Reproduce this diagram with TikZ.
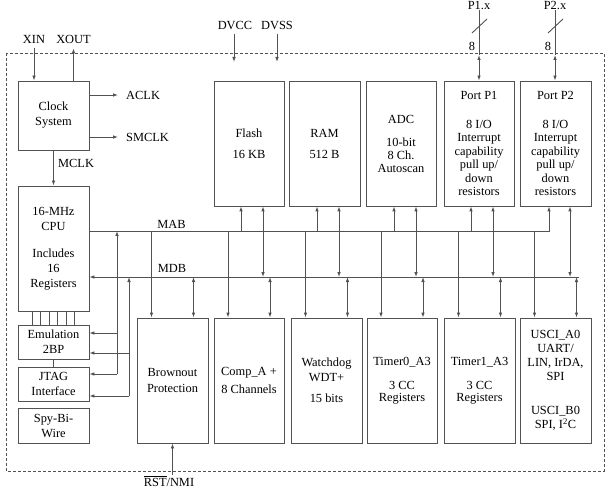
\documentclass[tikz,border=0pt]{standalone}
\usepackage{fontspec}
\setmainfont{Liberation Serif}
\usetikzlibrary{arrows.meta}
\definecolor{lc}{gray}{0.32}
\begin{document}
\begin{tikzpicture}[x=1pt,y=-1pt,
  font=\fontsize{12.4}{14}\selectfont,
  box/.style={draw=lc,line width=0.9pt,inner sep=0pt,align=center,minimum width=71pt},
  tall/.style={box,minimum height=125pt},
  small/.style={box,minimum height=34pt},
  wire/.style={draw=lc,line width=0.9pt},
  arr/.style={wire,-{Latex[length=5pt,width=3.6pt]}},
  darr/.style={wire,{Latex[length=5pt,width=3.6pt]}-{Latex[length=5pt,width=3.6pt]}},
  lbl/.style={inner sep=0pt}
]
\useasboundingbox (0,0) rectangle (605,489);
\draw[lc,line width=0.8pt,dash pattern=on 3pt off 2pt] (6,53) rectangle (604,471);

% boxes
\node[box,minimum height=69pt] (clk) at (53.5,115.5) {Clock\\[1pt]System};
\node[tall] (cpu) at (53.5,248.5) {16-MHz\\[1pt]CPU\\[13pt]Includes\\[1pt]16\\[1pt]Registers};
\node[small] (emu) at (53.5,342) {Emulation\\[1pt]2BP};
\node[small] (jtag) at (53.5,384) {JTAG\\[1pt]Interface};
\node[box,minimum height=35pt] (sbw) at (53.5,425.5) {Spy-Bi-\\[1pt]Wire};
\node[tall] (bor) at (172.5,380.5) {Brownout\\[2pt]Protection};
\node[tall,minimum width=70pt] (flash) at (249,143.5) {Flash\\[7pt]16 KB};
\node[tall] (ram) at (324.5,143.5) {RAM\\[7pt]512 B};
\node[tall,minimum width=70pt] (adc) at (401,143.5) {ADC\\[9pt]10-bit\\[-1pt]8 Ch.\\[-1pt]Autoscan};
\node[tall,minimum width=70pt] (p1) at (479,143.5) {Port P1\\[15pt]8 I/O\\[-0.6pt]Interrupt\\[-0.6pt]capability\\[-0.6pt]pull up/\\[-0.6pt]down\\[-0.6pt]resistors};
\node[tall] (p2) at (555.5,143.5) {Port P2\\[15pt]8 I/O\\[-0.6pt]Interrupt\\[-0.6pt]capability\\[-0.6pt]pull up/\\[-0.6pt]down\\[-0.6pt]resistors};
\node[tall,minimum width=70pt] (comp) at (249,380.5) {Comp\_A +\\[4pt]8 Channels};
\node[tall] (wdt) at (326.5,380.5) {Watchdog\\[1pt]WDT+\\[7pt]15 bits};
\node[tall,minimum width=70pt] (t0) at (402,380.5) {Timer0\_A3\\[10pt]3 CC\\[-2pt]Registers};
\node[tall] (t1) at (479.5,380.5) {Timer1\_A3\\[10pt]3 CC\\[-2pt]Registers};
\node[tall] (usci) at (555.5,380.5) {USCI\_A0\\UART/\\LIN, IrDA,\\SPI\\[20pt]USCI\_B0\\SPI, I\textsuperscript{2}C};

% clock signals
\node[lbl] (xin) at (34,39) {XIN};
\node[lbl] (xout) at (73.5,39) {XOUT};
\draw[arr] ([yshift=-4.5pt]xin.south) -- (xin.south |- clk.north);
\draw[arr] (xout.south |- clk.north) -- ([yshift=-5pt]xout.south);
\node[lbl,anchor=west] (aclk) at (126,95) {ACLK};
\node[lbl,anchor=west] (smclk) at (126,137) {SMCLK};
\draw[arr] (clk.east |- aclk.west) -- ([xshift=-8pt]aclk.west);
\draw[arr] (clk.east |- smclk.west) -- ([xshift=-8pt]smclk.west);
\draw[arr] (clk.south) -- (cpu.north);
\node[lbl,anchor=west] (mclk) at (58,163) {MCLK};

% power
\coordinate (pin) at (0,62);
\node[lbl] (dvcc) at (235,25) {DVCC};
\node[lbl] (dvss) at (277,25) {DVSS};
\draw[arr] ([xshift=-1pt,yshift=-4.5pt]dvcc.south) -- ([xshift=-1pt]dvcc.south |- pin);
\draw[arr] ([yshift=-4.5pt]dvss.south) -- (dvss.south |- pin);

% ports external
\coordinate (ft) at (0,55);
\coordinate (sla) at (0,33);
\coordinate (slb) at (0,19);
\coordinate (n8) at (0,46);
\node[lbl] (p1x) at (479,5.5) {P1.x};
\node[lbl] (p2x) at (555,5.5) {P2.x};
\draw[wire] (p1x.south) -- (p1.north |- ft);
\draw[darr] (p1.north |- ft) -- (p1.north);
\draw[wire] ([xshift=-7pt]p1.north |- sla) -- ([xshift=8pt]p1.north |- slb);
\node[lbl] (p1n) at ([xshift=-7pt]p1.north |- n8) {8};
\draw[wire] (p2x.south) -- ([xshift=-0.5pt]p2.north |- ft);
\draw[darr] ([xshift=-0.5pt]p2.north |- ft) -- ([xshift=-0.5pt]p2.north);
\draw[wire] ([xshift=-7.5pt]p2.north |- sla) -- ([xshift=7.5pt]p2.north |- slb);
\node[lbl] (p2n) at ([xshift=-7.5pt]p2.north |- n8) {8};

% buses
\coordinate (mab) at (89,231);
\coordinate (mdb) at (579,277);
\node[lbl] (mablbl) at (171.5,224) {MAB};
\node[lbl] (mdblbl) at (172,268) {MDB};
\draw[arr] (cpu.east |- mab) -- ([xshift=-6.5pt]p2.south |- mab) -- ([xshift=-6.5pt]p2.south);
\draw[arr] (mdb) -- (cpu.east |- mdb);

\foreach \n/\d in {flash/-8,ram/-7.5,adc/-7,p1/-8}
  \draw[arr] ([xshift=\d pt]\n.south |- mab) -- ([xshift=\d pt]\n.south);
\foreach \n/\d in {flash/14,ram/14.5,adc/15,p1/14,p2/14.5}
  \draw[darr] ([xshift=\d pt]\n.south) -- ([xshift=\d pt]\n.south |- mdb);
\foreach \n in {bor,comp,wdt,t0,t1,usci}{
  \draw[arr] ([xshift=-21pt]\n.north |- mab) -- ([xshift=-21pt]\n.north);
  \draw[darr] ([xshift=21pt]\n.north |- mdb) -- ([xshift=21pt]\n.north);
}

% debug connections
\coordinate (va) at (117,0);
\coordinate (vb) at (129,0);
\coordinate (ea) at ([yshift=9pt]emu.east);
\coordinate (eb) at ([yshift=-11pt]emu.east);
\coordinate (ja) at ([yshift=10pt]jtag.east);
\coordinate (jb) at ([yshift=-12pt]jtag.east);
\draw[arr] (va |- ja) -- (va |- mab);
\draw[arr] (va |- ea) -- (ea);
\draw[arr] (va |- ja) -- (ja);
\draw[arr] (vb |- jb) -- (vb |- mdb);
\draw[arr] (vb |- eb) -- (eb);
\draw[arr] (vb |- jb) -- (jb);

\foreach \dx in {-21.5,-13,-4.5,4,12.5,21}
  \draw[wire] ([xshift=\dx pt]cpu.south) -- ([xshift=\dx pt]emu.north);
\draw[wire] (emu.south) -- (jtag.north);

% reset
\node[lbl] (rst) at (169,481) {$\overline{\mbox{RST}}$/NMI};
\draw[arr] ([yshift=1pt]bor.south |- rst.north) -- (bor.south);
\end{tikzpicture}
\end{document}
